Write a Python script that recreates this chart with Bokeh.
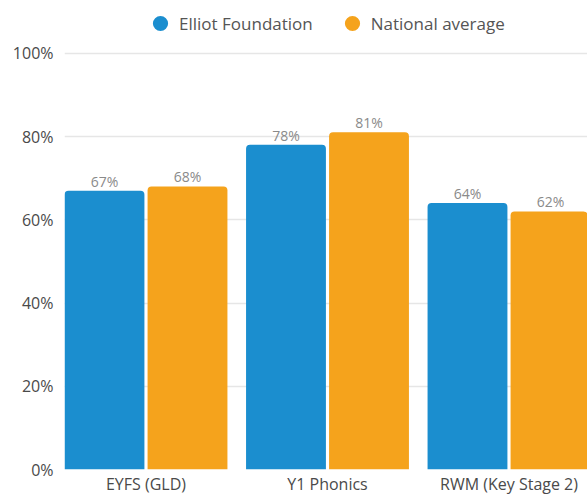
from bokeh.plotting import figure
from bokeh.models import (ColumnDataSource, Range1d, FixedTicker, PrintfTickFormatter,
                          Legend, LegendItem)
from bokeh.transform import dodge
from bokeh.core.properties import value
from bokeh.embed import file_html
from bokeh.resources import INLINE

categories = ["EYFS (GLD)", "Y1 Phonics", "RWM (Key Stage 2)"]
elliot = [67, 78, 64]
national = [68, 81, 62]
series_names = ["Elliot Foundation", "National average"]
y_ticks = [0, 20, 40, 60, 80, 100]

BLUE = "#1b8ecf"
ORANGE = "#f5a31c"
FONT = "Open Sans"

idx = list(range(len(categories)))
src = ColumnDataSource(dict(
    x=idx,
    elliot=elliot,
    national=national,
    elliot_lbl=[f"{v}%" for v in elliot],
    national_lbl=[f"{v}%" for v in national],
))

p = figure(width=587, height=497, output_backend="svg", toolbar_location=None,
           x_range=Range1d(-0.449, 2.4325), y_range=Range1d(0, 112.68),
           min_border_left=64, min_border_right=0, min_border_top=0, min_border_bottom=26)
p.outline_line_color = None
p.background_fill_color = "white"
p.border_fill_color = "white"

off = 0.2287
w = 0.44
p.vbar(x=dodge("x", -off, range=p.x_range), top="elliot", width=w, source=src,
       fill_color=BLUE, line_color=None, border_radius=(4, 4, 0, 0))
p.vbar(x=dodge("x", off, range=p.x_range), top="national", width=w, source=src,
       fill_color=ORANGE, line_color=None, border_radius=(4, 4, 0, 0))

for col, o in (("elliot", -off), ("national", off)):
    p.text(x=dodge("x", o, range=p.x_range), y=col, text=col + "_lbl", source=src,
           text_align="center", text_baseline="bottom", text_color="#8a8a8a",
           text_font=value(FONT), text_font_size="14px")

# legend swatches (renderers hidden in the plot, drawn only in the legend)
r1 = p.scatter(x="x", y="elliot", source=src, marker="circle",
               fill_color=BLUE, line_color=None, visible=False)
r2 = p.scatter(x="x", y="national", source=src, marker="circle",
               fill_color=ORANGE, line_color=None, visible=False)
legend = Legend(items=[LegendItem(label=series_names[0], renderers=[r1]),
                       LegendItem(label=series_names[1], renderers=[r2])],
                orientation="horizontal", location=(77, 427),
                margin=0, padding=0, spacing=20, label_standoff=-11,
                glyph_width=38, glyph_height=38, label_height=38,
                label_text_font=FONT, label_text_font_size="17px",
                label_text_color="#555555", background_fill_alpha=0,
                border_line_color=None)
p.add_layout(legend, "center")

# axes
p.xaxis.ticker = FixedTicker(ticks=idx)
p.xaxis.major_label_overrides = {i: c for i, c in zip(idx, categories)}
p.xaxis.axis_line_color = None
p.xaxis.major_tick_line_color = None
p.xaxis.minor_tick_line_color = None
p.xaxis.major_tick_out = 0
p.xaxis.major_label_standoff = 3
p.xaxis.major_label_text_font = FONT
p.xaxis.major_label_text_font_size = "16px"
p.xaxis.major_label_text_color = "#4a4a4a"

p.yaxis.ticker = FixedTicker(ticks=y_ticks)
p.yaxis.formatter = PrintfTickFormatter(format="%d%%")
p.yaxis.axis_line_color = None
p.yaxis.major_tick_line_color = None
p.yaxis.minor_tick_line_color = None
p.yaxis.major_tick_out = 0
p.yaxis.major_label_standoff = 11
p.yaxis.major_label_text_font = FONT
p.yaxis.major_label_text_font_size = "16px"
p.yaxis.major_label_text_color = "#4a4a4a"

p.xgrid.grid_line_color = None
p.ygrid.ticker = FixedTicker(ticks=y_ticks)
p.ygrid.grid_line_color = "#e6e6e6"
p.ygrid.grid_line_width = 1.5
p.ygrid.level = "underlay"

open("out.html", "w").write(file_html(p, INLINE))
